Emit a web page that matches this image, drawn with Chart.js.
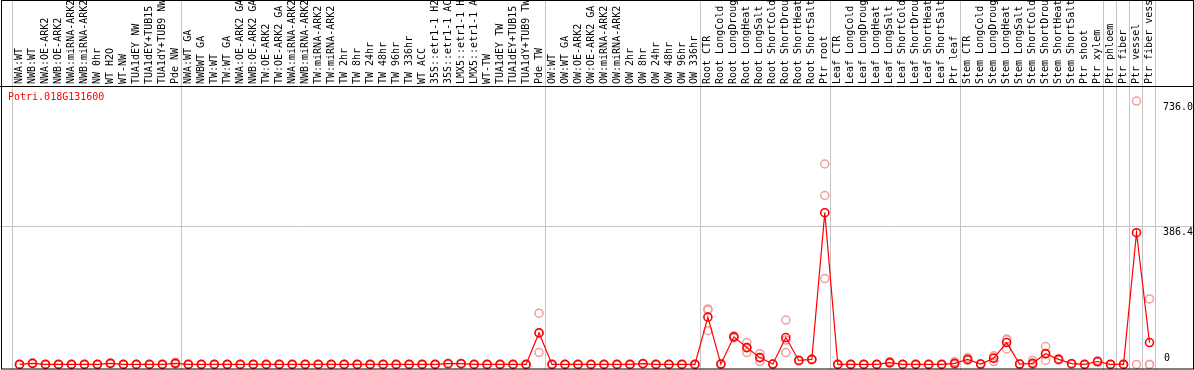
<!DOCTYPE html>
<html>
<head>
<meta charset="utf-8">
<script src="https://cdn.jsdelivr.net/npm/chart.js@4"></script>
<style>
  body { margin: 0; background: #fff; }
  canvas { display: block; }
</style>
</head>
<body>
<canvas id="expr" width="1194" height="370"></canvas>
<script>
// sample names, as shown in the header (cut at 14 chars)
const samples = [
  'NWA:WT', 'NWB:WT', 'NWA:OE-ARK2', 'NWB:OE-ARK2', 'NWA:miRNA-ARK2', 'NWB:miRNA-ARK2',
  'NW 0hr', 'WT H2O', 'WT-NW', 'TUA1dEY NW', 'TUA1dEY+TUB15', 'TUA1dY+TUB9 NW', 'Pde NW',
  'NWA:WT GA', 'NWBWT GA', 'TW:WT', 'TW:WT GA', 'NWA:OE-ARK2 GA', 'NWB:OE-ARK2 GA',
  'TW:OE-ARK2', 'TW:OE-ARK2 GA', 'NWA:miRNA-ARK2', 'NWB:miRNA-ARK2', 'TW:miRNA-ARK2', 'TW:miRNA-ARK2',
  'TW 2hr', 'TW 8hr', 'TW 24hr', 'TW 48hr', 'TW 96hr', 'TW 336hr', 'WT ACC',
  '35S::etr1-1 H2', '35S::etr1-1 AC', 'LMX5::etr1-1 H', 'LMX5::etr1-1 A',
  'WT-TW', 'TUA1dEY TW', 'TUA1dEY+TUB15', 'TUA1dY+TUB9 TW', 'Pde TW',
  'OW:WT', 'OW:WT GA', 'OW:OE-ARK2', 'OW:OE-ARK2 GA', 'OW:miRNA-ARK2', 'OW:miRNA-ARK2',
  'OW 2hr', 'OW 8hr', 'OW 24hr', 'OW 48hr', 'OW 96hr', 'OW 336hr',
  'Root CTR', 'Root LongCold', 'Root LongDroug', 'Root LongHeat', 'Root LongSalt',
  'Root ShortCold', 'Root ShortDrou', 'Root ShortHeat', 'Root ShortSalt', 'Ptr root',
  'Leaf CTR', 'Leaf LongCold', 'Leaf LongDroug', 'Leaf LongHeat', 'Leaf LongSalt',
  'Leaf ShortCold', 'Leaf ShortDrou', 'Leaf ShortHeat', 'Leaf ShortSalt', 'Ptr leaf',
  'Stem CTR', 'Stem LongCold', 'Stem LongDroug', 'Stem LongHeat', 'Stem LongSalt',
  'Stem ShortCold', 'Stem ShortDrou', 'Stem ShortHeat', 'Stem ShortSalt', 'Ptr shoot', 'Ptr xylem',
  'Ptr phloem', 'Ptr fiber', 'Ptr vessel', 'Ptr fiber vess'
];

// mean expression per sample
const meanValues = [
  0, 3, 0, 0, 0, 0, 0, 3, 0, 0, 0, 0, 3,
  0, 0, 0, 0, 0, 0, 0, 0, 0, 0, 0, 0, 0, 0, 0, 0, 0, 0, 0, 0, 2, 2, 0, 0, 0, 0, 0, 88,
  0, 0, 0, 0, 0, 0, 0, 2, 0, 0, 0, 0,
  132, 1, 77, 47, 19, 1, 75, 11, 14, 424,
  0, 0, 0, 0, 5, 0, 0, 0, 0, 3,
  14, 1, 17, 61, 1, 3, 30, 14, 2, 0, 8,
  0, 0, 368, 61
];

// replicates (pale circles)
const rep1 = [
  0, 3, 0, 0, 0, 0, 0, 4, 0, 0, 0, 0, 6,
  0, 0, 0, 0, 0, 0, 0, 0, 0, 0, 0, 0, 0, 0, 0, 0, 0, 0, 0, 0, 3, 3, 0, 0, 0, 0, 0, 143,
  0, 0, 0, 0, 0, 0, 0, 3, 0, 0, 0, 0,
  155, 1, 80, 61, 30, 1, 124, 12, 15, 560,
  0, 0, 0, 0, 8, 0, 0, 0, 0, 8,
  19, 1, 24, 71, 1, 11, 50, 16, 2, 0, 10,
  0, 0, 736, 183
];
const rep2 = [
  0, 3, 0, 0, 0, 0, 0, 2, 0, 0, 0, 0, 2,
  0, 0, 0, 0, 0, 0, 0, 0, 0, 0, 0, 0, 0, 0, 0, 0, 0, 0, 0, 0, 2, 2, 0, 0, 0, 0, 0, 33,
  0, 0, 0, 0, 0, 0, 0, 2, 0, 0, 0, 0,
  152, 1, 74, 33, 8, 1, 33, 10, 13, 472,
  0, 0, 0, 0, 3, 0, 0, 0, 0, 0,
  12, 1, 8, 43, 1, 0, 11, 12, 2, 0, 6,
  0, 0, 0, 0
];
const rep3 = [
  0, 3, 0, 0, 0, 0, 0, 3, 0, 0, 0, 0, 1,
  0, 0, 0, 0, 0, 0, 0, 0, 0, 0, 0, 0, 0, 0, 0, 0, 0, 0, 0, 0, 1, 1, 0, 0, 0, 0, 0, 88,
  0, 0, 0, 0, 0, 0, 0, 1, 0, 0, 0, 0,
  94, 1, 77, 47, 19, 1, 68, 11, 14, 240,
  0, 0, 0, 0, 4, 0, 0, 0, 0, 1,
  11, 1, 19, 69, 1, 0, 29, 14, 2, 0, 8,
  0, 0, null, 0
];

// first sample of each group (last entry closes the final group)
const groupStarts = [0, 13, 41, 53, 63, 73, 84, 85, 86, 87, 88];

const yTicks = [0, 386.4, 736.0];
const yTickLabels = ['0', '386.4', '736.0'];
const geneName = 'Potri.018G131600';

const monoFont = '10px "DejaVu Sans Mono", "Liberation Mono", monospace';

// frame, group separators, gridline, y labels and the gene name
const framePlugin = {
  id: 'frame',
  beforeDatasetsDraw(chart) {
    const ctx = chart.ctx;
    const xs = chart.scales.x;
    const ys = chart.scales.y;
    const half = (xs.getPixelForValue(1) - xs.getPixelForValue(0)) / 2;
    ctx.save();
    ctx.strokeStyle = '#c4c4c4';
    ctx.lineWidth = 1;
    groupStarts.forEach(function(g) {
      let x = Math.round(xs.getPixelForValue(Math.min(g, samples.length - 1)) + (g < samples.length ? -half : half)) - 0.5;
      ctx.beginPath();
      ctx.moveTo(x, 0);
      ctx.lineTo(x, chart.height);
      ctx.stroke();
    });
    let gy = Math.round(ys.getPixelForValue(yTicks[1])) + 0.5;
    ctx.beginPath();
    ctx.moveTo(0, gy);
    ctx.lineTo(chart.width, gy);
    ctx.stroke();
    ctx.restore();
  },
  afterDraw(chart) {
    const ctx = chart.ctx;
    const ys = chart.scales.y;
    const area = chart.chartArea;
    ctx.save();
    ctx.strokeStyle = '#000';
    ctx.lineWidth = 1;
    ctx.strokeRect(1.5, 0.5, chart.width - 2, chart.height - 1.5);
    ctx.beginPath();
    ctx.moveTo(0, Math.round(area.top) + 0.5);
    ctx.lineTo(chart.width, Math.round(area.top) + 0.5);
    ctx.stroke();

    ctx.font = monoFont;
    ctx.fillStyle = '#000';
    ctx.textAlign = 'left';
    yTicks.forEach(function(v, i) {
      let y = ys.getPixelForValue(v);
      if (v === 0) {
        ctx.textBaseline = 'bottom';
        ctx.fillText(yTickLabels[i], 1164, y - 1);
      } else {
        ctx.textBaseline = 'top';
        ctx.fillText(yTickLabels[i], 1163, y + 1);
      }
    });

    ctx.fillStyle = '#ff0000';
    ctx.textBaseline = 'middle';
    ctx.fillText(geneName, 8, area.top + 11);
    ctx.restore();
  }
};

const ctx = document.getElementById('expr').getContext('2d');

function repSet(values) {
  return {
    data: values,
    showLine: false,
    order: 1,
    pointRadius: 4,
    pointBorderWidth: 1.5,
    pointBorderColor: '#f0a0a0',
    pointBackgroundColor: 'rgba(0,0,0,0)',
    clip: false
  };
}

new Chart(ctx, {
  type: 'line',
  data: {
    labels: samples,
    datasets: [
      {
        data: meanValues,
        order: 0,
        borderColor: '#ff0000',
        borderWidth: 1.2,
        pointRadius: 4,
        pointBorderWidth: 1.6,
        pointBorderColor: '#ff0000',
        pointBackgroundColor: 'rgba(0,0,0,0)',
        tension: 0,
        clip: false
      },
      repSet(rep1),
      repSet(rep2),
      repSet(rep3)
    ]
  },
  options: {
    responsive: false,
    animation: false,
    devicePixelRatio: 1,
    layout: { padding: { left: 13, right: 38, top: 0, bottom: 2 } },
    plugins: {
      legend: { display: false },
      tooltip: { enabled: false }
    },
    events: [],
    scales: {
      x: {
        position: 'top',
        offset: true,
        grid: { display: false, drawTicks: false },
        border: { display: false },
        ticks: {
          autoSkip: false,
          minRotation: 90,
          maxRotation: 90,
          padding: 2,
          labelOffset: 12,
          color: '#000',
          font: { family: '"DejaVu Sans Mono", "Liberation Mono", monospace', size: 10 }
        },
        afterFit: function(scale) { scale.height = 86; }
      },
      y: {
        display: false,
        min: 0,
        max: 778
      }
    }
  },
  plugins: [framePlugin]
});
</script>
</body>
</html>
